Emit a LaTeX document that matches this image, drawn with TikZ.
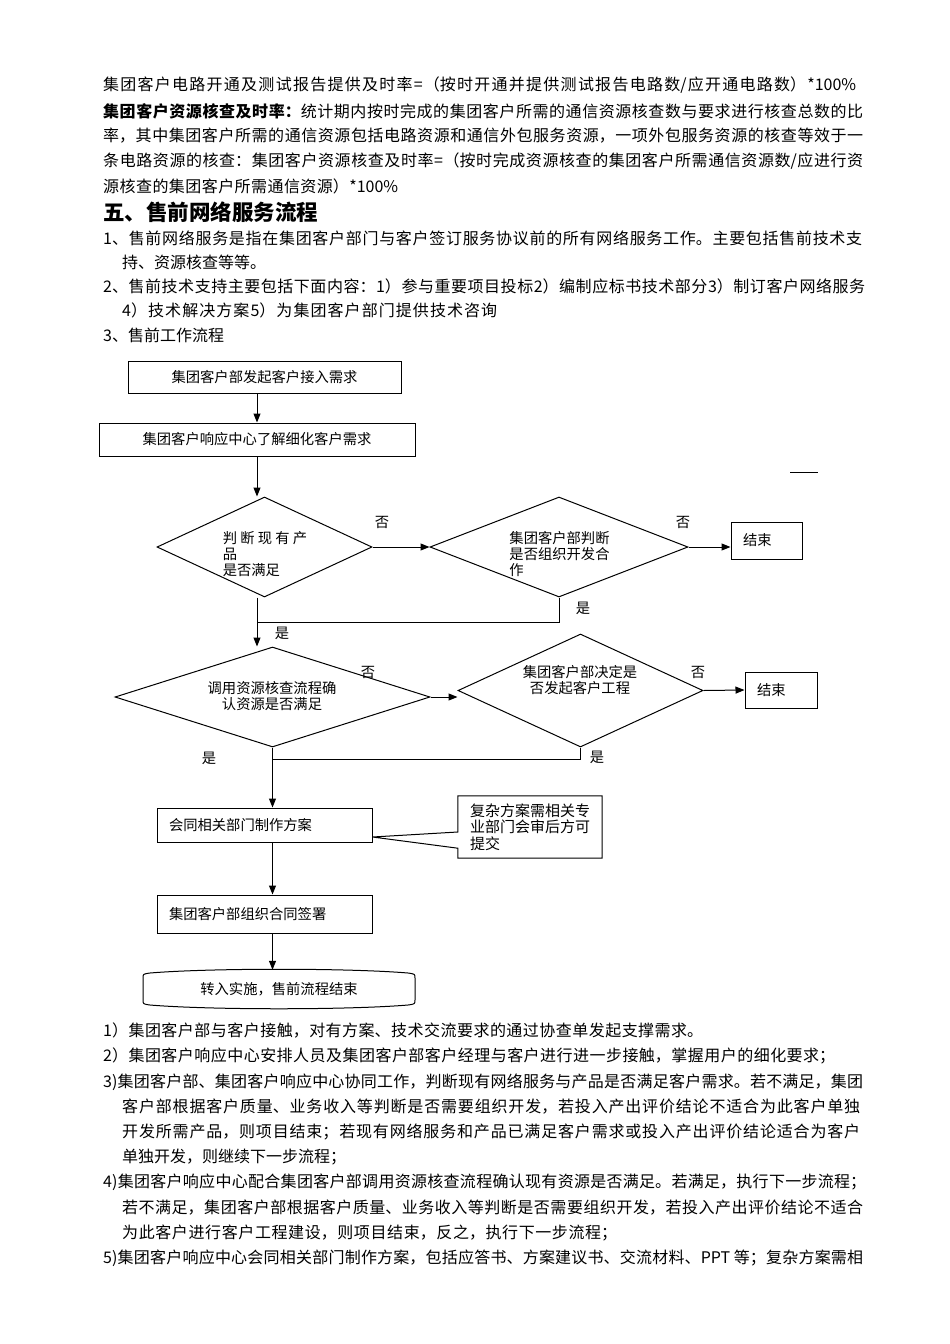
\documentclass[tikz,border=0pt]{standalone}
\usepackage{fontspec}
\setmainfont{Noto Sans CJK SC}
\usepackage{tikz}
\usetikzlibrary{arrows.meta, shapes.geometric, calc}
\XeTeXlinebreaklocale "zh"
\XeTeXlinebreakskip=0pt plus 5pt minus 0.5pt
\newcommand{\jline}[2]{\parbox{#1}{\parfillskip=0pt\relax\noindent #2}}
\tikzset{
	txt/.style={anchor=west, inner sep=0pt, font=\fontsize{16}{20}\selectfont},
	ftxt/.style={font=\fontsize{14.3}{16}\selectfont},
	procbox/.style={draw, line width=1pt, inner sep=0pt, ftxt},
	leftbox/.style={procbox, inner xsep=12pt, text width=#1, align=left},
	decision/.style={draw, diamond, line width=1pt, inner sep=0pt},
	lbl/.style={inner sep=0pt, ftxt},
	arr/.style={-{Triangle[length=9pt,width=7pt]}, line width=1pt},
	trait/.style={line width=1pt}
}

\begin{document}
\begin{tikzpicture}[x=1pt, y=-1pt]
	\useasboundingbox (0,0) rectangle (950,1344);
	% texte du haut
	\node[txt] (t1) at (103,85) {\jline{753pt}{集团客户电路开通及测试报告提供及时率=（按时开通并提供测试报告电路数/应开通电路数）*100\%}};
	\node[txt] (t2) at (103,111) {\jline{760pt}{{\bfseries 集团客户资源核查及时率：}统计期内按时完成的集团客户所需的通信资源核查数与要求进行核查总数的比}};
	\node[txt] (t3) at (103,136) {\jline{760pt}{率，其中集团客户所需的通信资源包括电路资源和通信外包服务资源，一项外包服务资源的核查等效于一}};
	\node[txt] (t4) at (103,161) {\jline{760pt}{条电路资源的核查：集团客户资源核查及时率=（按时完成资源核查的集团客户所需通信资源数/应进行资}};
	\node[txt] (t5) at (103,186) {\jline{295pt}{源核查的集团客户所需通信资源）*100\%}};
	\node[txt, font=\fontsize{21.5}{24}\selectfont\bfseries] (h5) at (103,212) {五、售前网络服务流程};
	\node[txt] (p1a) at (103,238) {\jline{759pt}{1、售前网络服务是指在集团客户部门与客户签订服务协议前的所有网络服务工作。主要包括售前技术支}};
	\node[txt] (p1b) at (122,262) {持、资源核查等等。};
	\node[txt] (p2a) at (103,286) {\jline{762pt}{2、售前技术支持主要包括下面内容：1）参与重要项目投标2）编制应标书技术部分3）制订客户网络服务}};
	\node[txt] (p2b) at (122,310) {\jline{375pt}{4）技术解决方案5）为集团客户部门提供技术咨询}};
	\node[txt] (p3) at (103,335) {3、售前工作流程};
	% demande initiale
	\node[procbox, minimum width=273pt, minimum height=32pt] (b1) at (264.5,377) {集团客户部发起客户接入需求};
	\node[procbox, minimum width=316pt, minimum height=33pt] (b2) at (257,439.5) {集团客户响应中心了解细化客户需求};
	\draw[arr] (b2.north |- b1.south) -- (b2.north);
	\draw[trait] (790,472) -- (818,472);
	% premier niveau : produits
	\node[decision, minimum width=215pt, minimum height=100pt] (d1) at (264.5,547) {};
	\node[lbl, align=left] (d1t) at (265,554) {判 断 现 有 产\\品\\是否满足};
	\node[decision, minimum width=258pt, minimum height=100pt] (d2) at (559,547) {};
	\node[lbl, align=left] (d2t) at (559.5,554) {集团客户部判断\\是否组织开发合\\作};
	\node[leftbox=47pt, minimum height=37pt] (e1) at (766.5,540.5) {结束};
	\draw[arr] (b2.south) -- (b2.south |- d1.north);
	\draw[arr] (d1.east) -- (d2.west);
	\draw[arr] (d2.east) -- (d2.east -| e1.west);
	\coordinate (j1) at (257,622);
	\draw[trait] (d2.south) |- (j1);
	\node[lbl] (n1) at (382,522) {否};
	\node[lbl] (n2) at (683,522) {否};
	\node[lbl] (y2) at (583,608) {是};
	\node[lbl] (y1) at (282,633) {是};
	% second niveau : ressources
	\node[decision, minimum width=315pt, minimum height=100pt] (d3) at (272.5,697) {};
	\node[lbl, align=center] (d3t) at (272,696) {调用资源核查流程确\\认资源是否满足};
	\node[decision, minimum width=245pt, minimum height=113pt] (d4) at (580.5,690.5) {};
	\node[lbl, align=center] (d4t) at (580,680) {集团客户部决定是\\否发起客户工程};
	\node[leftbox=48pt, minimum height=36pt] (e2) at (781,690) {结束};
	\draw[arr] (d1.south -| b2.south) -- (d3.north -| b2.south);
	\draw[arr] (d3.east) -- (d3.east -| d4.west);
	\draw[arr] (d4.east) -- (e2.west);
	\coordinate (j2) at (272.5,759);
	\draw[trait] (d4.south) |- (j2);
	\node[lbl] (n3) at (368,672) {否};
	\node[lbl] (n4) at (698,672) {否};
	\node[lbl] (y4) at (597,757) {是};
	\node[lbl] (y3) at (209,758) {是};
	% solution et contrat
	\node[leftbox=191pt, minimum height=34pt] (b3) at (264.5,825) {会同相关部门制作方案};
	\node[inner sep=0pt, text width=120pt, align=left, minimum width=144pt, minimum height=62pt, font=\fontsize{15}{16.5}\selectfont] (nt) at (530,827) {复杂方案需相关专\\业部门会审后方可\\提交};
	\draw[trait] ([yshift=-5pt]nt.west) -- (nt.north west) -- (nt.north east) -- (nt.south east) -- (nt.south west) -- ([yshift=10pt]nt.south west) -- ([yshift=-12pt]b3.east) -- cycle;
	\node[leftbox=191pt, minimum height=38pt] (b4) at (264.5,914) {集团客户部组织合同签署};
	\draw[arr] (d3.south) -- (d3.south |- b3.north);
	\draw[arr] (b3.south -| d3.south) -- (b4.north -| d3.south);
	% fin du processus
	\node[lbl, minimum width=272pt, minimum height=38pt] (fin) at (279,989) {转入实施，售前流程结束};
	\draw[trait] (143,978) .. controls (143,974) .. (150,973) .. controls (210,968) and (348,968) .. (408,973) .. controls (415,974) .. (415,978) -- (415,1000) .. controls (415,1004) .. (408,1005) .. controls (348,1010) and (210,1010) .. (150,1005) .. controls (143,1004) .. (143,1000) -- cycle;
	\draw[arr] (b4.south -| d3.south) -- (fin.north -| d3.south);
	% texte du bas
	\node[txt] (q1) at (103,1030) {\jline{600pt}{1）集团客户部与客户接触，对有方案、技术交流要求的通过协查单发起支撑需求。}};
	\node[txt] (q2) at (103,1056) {\jline{732pt}{2）集团客户响应中心安排人员及集团客户部客户经理与客户进行进一步接触，掌握用户的细化要求；}};
	\node[txt] (q3a) at (103,1082) {\jline{760pt}{3)集团客户部、集团客户响应中心协同工作，判断现有网络服务与产品是否满足客户需求。若不满足，集团}};
	\node[txt] (q3b) at (122,1107) {\jline{738pt}{客户部根据客户质量、业务收入等判断是否需要组织开发，若投入产出评价结论不适合为此客户单独}};
	\node[txt] (q3c) at (122,1132) {\jline{738pt}{开发所需产品，则项目结束；若现有网络服务和产品已满足客户需求或投入产出评价结论适合为客户}};
	\node[txt] (q3d) at (122,1157) {单独开发，则继续下一步流程；};
	\node[txt] (q4a) at (103,1182) {\jline{763pt}{4)集团客户响应中心配合集团客户部调用资源核查流程确认现有资源是否满足。若满足，执行下一步流程；}};
	\node[txt] (q4b) at (122,1208) {\jline{741pt}{若不满足，集团客户部根据客户质量、业务收入等判断是否需要组织开发，若投入产出评价结论不适合}};
	\node[txt] (q4c) at (122,1233) {\jline{495pt}{为此客户进行客户工程建设，则项目结束，反之，执行下一步流程；}};
	\node[txt] (q5) at (103,1258) {\jline{760pt}{5)集团客户响应中心会同相关部门制作方案，包括应答书、方案建议书、交流材料、PPT 等；复杂方案需相}};
\end{tikzpicture}
\end{document}
